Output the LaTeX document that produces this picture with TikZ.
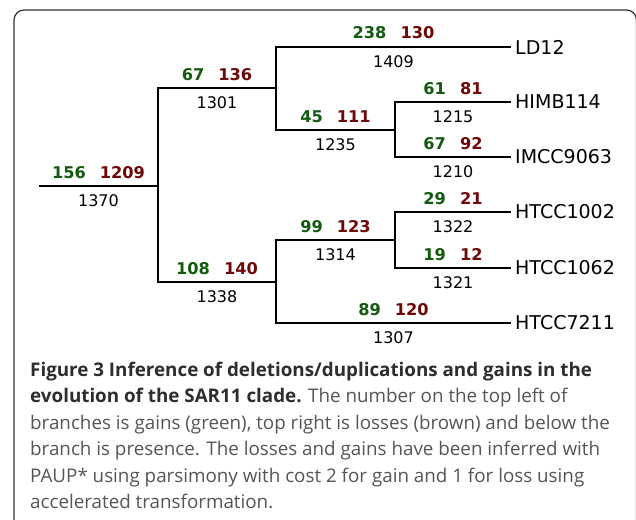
\documentclass[tikz,border=0pt]{standalone}
\usepackage{fontspec}
\setmainfont{Open Sans}
\newfontfamily\treefont{DejaVu Sans}
\newfontfamily\capfont{Open Sans}
\definecolor{gaincol}{RGB}{18,90,14}
\definecolor{losscol}{RGB}{110,8,8}
\definecolor{capbold}{RGB}{45,45,45}
\definecolor{captext}{RGB}{85,85,85}
\definecolor{framecol}{RGB}{50,50,50}
\begin{document}
\begin{tikzpicture}[x=1pt,y=-1pt,
  branch/.style={line width=1.4pt,draw=black},
  gl/.style={anchor=base,inner sep=0pt,font=\treefont\fontsize{16.2}{16}\selectfont\bfseries},
  pres/.style={anchor=base,inner sep=0pt,font=\treefont\fontsize{16}{16}\selectfont},
  leaf/.style={anchor=west,inner sep=0pt,font=\treefont\fontsize{19}{20}\selectfont},
  capline/.style={anchor=base west,inner sep=0pt,font=\capfont\fontsize{18.8}{20}\selectfont,text=captext}
]
\useasboundingbox (0,0) rectangle (636,519);
\fill[white] (0,0) rectangle (636,519);
\draw[framecol,line width=1.2pt,rounded corners=10pt] (14,540) -- (14,10) -- (636.5,10) -- (636.5,540);

% tree coordinates
\coordinate (r) at (39,186);
\coordinate (a) at (158,186);
\coordinate (b) at (276,88);
\coordinate (c) at (395,130);
\coordinate (d) at (276,282);
\coordinate (e) at (395,240);
\node[leaf] (LD) at (515,47) {LD12};
\node[leaf] (HIMB) at (515,102) {HIMB114};
\node[leaf] (IMCC) at (515,157) {IMCC9063};
\node[leaf] (H1002) at (515,212) {HTCC1002};
\node[leaf] (H1062) at (515,268) {HTCC1062};
\node[leaf] (H7211) at (515,323) {HTCC7211};

\draw[branch] (r) -- (a);
\draw[branch] (a) |- (b);
\draw[branch] (a) |- (d);
\draw[branch] (b) |- ([xshift=-4pt]LD.west);
\draw[branch] (b) |- (c);
\draw[branch] (c) |- ([xshift=-4pt]HIMB.west);
\draw[branch] (c) |- ([xshift=-4pt]IMCC.west);
\draw[branch] (d) |- (e);
\draw[branch] (d) |- ([xshift=-4pt]H7211.west);
\draw[branch] (e) |- ([xshift=-4pt]H1002.west);
\draw[branch] (e) |- ([xshift=-4pt]H1062.west);

% gains / losses / presence
\newcommand{\gls}[2]{{\color{gaincol}#1}\hspace{14pt}{\color{losscol}#2}}
\node[gl] (g0) at (98.5,178) {\gls{156}{1209}};
\node[pres] (p0) at (98.5,206) {1370};
\node[gl] (g1) at (217,80) {\gls{67}{136}};
\node[pres] (p1) at (217,108) {1301};
\node[gl] (g2) at (393.5,39) {\gls{238}{130}};
\node[pres] (p2) at (393.5,67) {1409};
\node[gl] (g3) at (335.5,122) {\gls{45}{111}};
\node[pres] (p3) at (335.5,150) {1235};
\node[gl] (g4) at (453,94) {\gls{61}{81}};
\node[pres] (p4) at (453,122) {1215};
\node[gl] (g5) at (453,149) {\gls{67}{92}};
\node[pres] (p5) at (453,177) {1210};
\node[gl] (g6) at (217,274) {\gls{108}{140}};
\node[pres] (p6) at (217,302) {1338};
\node[gl] (g7) at (335.5,232) {\gls{99}{123}};
\node[pres] (p7) at (335.5,260) {1314};
\node[gl] (g8) at (453,204) {\gls{29}{21}};
\node[pres] (p8) at (453,232) {1322};
\node[gl] (g9) at (453,260) {\gls{19}{12}};
\node[pres] (p9) at (453,288) {1321};
\node[gl] (g10) at (393.5,315) {\gls{89}{120}};
\node[pres] (p10) at (393.5,343) {1307};

% caption
\node[capline] (c1) at (30,376) {\textcolor{capbold}{\bfseries Figure 3 Inference of deletions/duplications and gains in the}};
\node[capline] (c2) at (30,402.5) {\textcolor{capbold}{\bfseries evolution of the SAR11 clade.} The number on the top left of};
\node[capline] (c3) at (30,429) {branches is gains (green), top right is losses (brown) and below the};
\node[capline] (c4) at (30,455.5) {branch is presence. The losses and gains have been inferred with};
\node[capline] (c5) at (30,482) {PAUP* using parsimony with cost 2 for gain and 1 for loss using};
\node[capline] (c6) at (30,508.5) {accelerated transformation.};
\end{tikzpicture}
\end{document}
